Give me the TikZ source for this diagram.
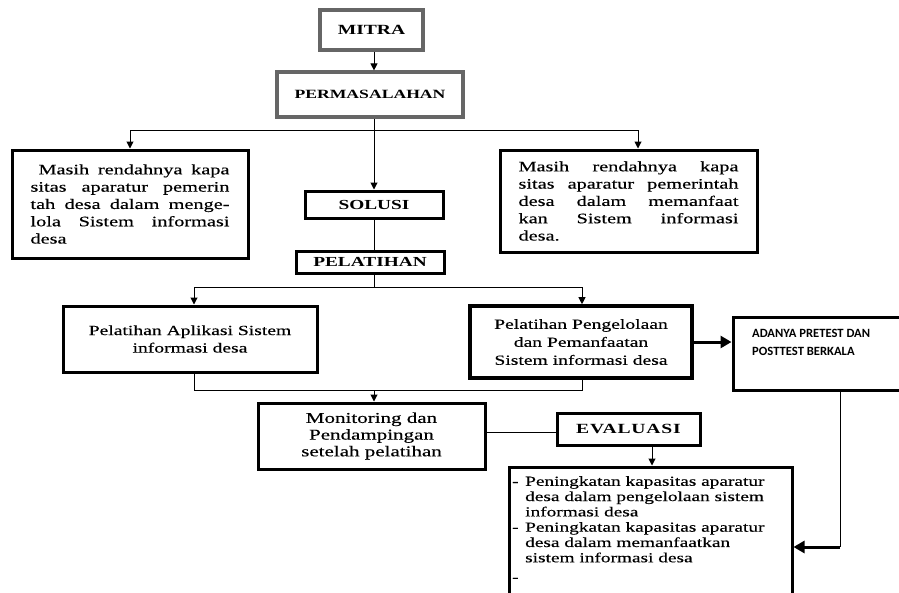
\documentclass[tikz,border=0pt]{standalone}
\usepackage{fontspec}
\setmainfont{Liberation Serif}[FakeStretch=1.4, UprightFeatures={FakeBold=0.35}]
\newfontfamily\calib{Carlito}
\usetikzlibrary{arrows.meta}
\begin{document}
\begin{tikzpicture}[x=1pt,y=-1pt,
  gbox/.style={draw=black!60, line width=3.2pt, inner sep=0pt, font=\bfseries\fontsize{14}{16}\selectfont},
  bbox/.style={draw=black, line width=3pt, inner sep=0pt},
  tbox/.style={bbox, font=\bfseries\fontsize{13.8}{16}\selectfont},
  conn/.style={line width=1pt},
  arr/.style={conn,-{Triangle[length=7pt,width=7pt]}},
  bigarr/.style={line width=3pt,-{Triangle[length=11pt,width=12pt]}},
  body/.style={font=\fontsize{14}{17.5}\selectfont},
]
\useasboundingbox (0,0) rectangle (899,592);
% boxes
\node[gbox, minimum width=103pt, minimum height=40pt] (mitra) at (371.5,30) {MITRA};
\node[gbox, minimum width=186pt, minimum height=45pt, font=\bfseries\fontsize{12.6}{15}\selectfont] (perm) at (370,94.5) {PERMASALAHAN};
\node[bbox, minimum width=236pt, minimum height=108pt, text width=199pt, align=justify,
      font=\fontsize{14.5}{17.3}\selectfont] (left1) at (130,204)
 {\hspace*{8pt}Masih rendahnya kapa\linebreak sitas aparatur pemerin\linebreak tah desa dalam menge-\linebreak lola Sistem informasi\linebreak desa};
\node[bbox, minimum width=257pt, minimum height=102pt, text width=220pt, align=justify,
      font=\fontsize{14.5}{17.3}\selectfont] (right1) at (628.5,201)
 {Masih rendahnya kapa\linebreak sitas aparatur pemerintah\linebreak desa dalam memanfaat\linebreak kan Sistem informasi\linebreak desa.};
\node[tbox, minimum width=138pt, minimum height=27pt] (solusi) at (374,204.5) {SOLUSI};
\node[tbox, minimum width=148pt, minimum height=22pt] (pel) at (370,262) {PELATIHAN};
\node[bbox, minimum width=254pt, minimum height=66pt, align=center, body] (ltrain) at (190,339)
 {Pelatihan Aplikasi Sistem\\informasi desa};
\node[bbox, line width=3.6pt, minimum width=222pt, minimum height=72pt, align=center, font=\fontsize{14}{18}\selectfont] (rtrain) at (581,342)
 {Pelatihan Pengelolaan\\dan Pemanfaatan\\Sistem informasi desa};
\node[bbox, minimum width=173pt, minimum height=73pt] (pretest) at (819.5,353.5) {};
\node[anchor=north west, inner sep=0pt, align=left, font=\calib\bfseries\fontsize{12.6}{18}\selectfont] (pretxt) at (752,329.5)
 {ADANYA PRETEST DAN\\POSTTEST BERKALA};
\node[bbox, minimum width=227pt, minimum height=66pt, align=center, font=\fontsize{15}{16.7}\selectfont] (mon) at (371.5,436)
 {Monitoring dan\\Pendampingan\\setelah pelatihan};
\node[bbox, minimum width=143pt, minimum height=32pt, font=\bfseries\fontsize{14}{16}\selectfont\addfontfeature{LetterSpace=6}] (eval) at (628.5,429) {EVALUASI};
\node[bbox, minimum width=283pt, minimum height=128pt] (result) at (650.5,531) {};
\node[anchor=north west, inner sep=0pt, align=left, font=\fontsize{13.8}{15.3}\selectfont] (restxt) at (512,476)
 {\makebox[13pt][l]{-}Peningkatan kapasitas aparatur\\
  \hspace*{13pt}desa dalam pengelolaan sistem\\
  \hspace*{13pt}informasi desa\\
  \makebox[13pt][l]{-}Peningkatan kapasitas aparatur\\
  \hspace*{13pt}desa dalam memanfaatkan\\
  \hspace*{13pt}sistem informasi desa\\[4pt]
  \makebox[13pt][l]{-}};
% connectors
\coordinate (spine) at (374,0);
\coordinate (j1) at (374,130);
\coordinate (j2) at (374,287);
\coordinate (j3) at (374,390);
\coordinate (k) at (840,547);
\draw[arr] (spine |- mitra.south) -- (spine |- perm.north);
\draw[conn] (spine |- perm.south) -- (j1);
\draw[arr] (j1) -| (left1.north);
\draw[arr] (j1) -| ([xshift=9.5pt]right1.north);
\draw[arr] (j1) -- (spine |- solusi.north);
\draw[conn] (spine |- solusi.south) -- (spine |- pel.north);
\draw[conn] (spine |- pel.south) -- (j2);
\draw[arr] (j2) -| ([xshift=4pt]ltrain.north);
\draw[arr] (j2) -| ([xshift=1pt]rtrain.north);
\draw[conn] ([xshift=4pt]ltrain.south) |- (j3);
\draw[conn] ([xshift=1pt]rtrain.south) |- (j3);
\draw[arr] (j3) -- (spine |- mon.north);
\draw[conn] ([yshift=4pt]mon.east) -- ([yshift=4pt]mon.east -| eval.west);
\draw[arr] ([xshift=23.5pt]eval.south) -- ([xshift=23.5pt]eval.south |- result.north);
\draw[bigarr] (rtrain.east) -- (rtrain.east -| pretest.west);
\draw[conn] ([xshift=20.5pt]pretest.south) -- (k);
\draw[bigarr] (k) -- (k -| result.east);
\end{tikzpicture}
\end{document}
